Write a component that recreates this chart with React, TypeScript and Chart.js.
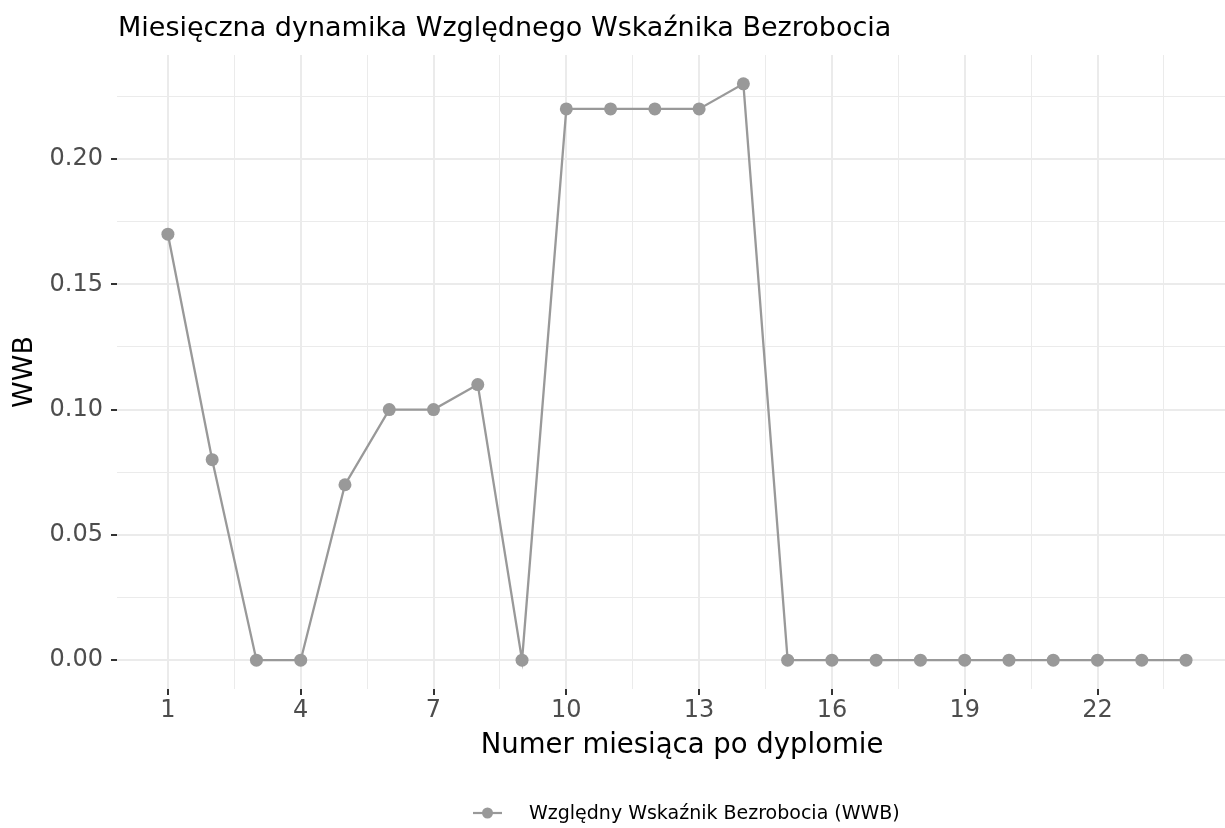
import React, { useEffect, useRef } from 'react';
import { Chart, registerables } from 'chart.js';

Chart.register(...registerables);

const months = [1, 2, 3, 4, 5, 6, 7, 8, 9, 10, 11, 12, 13, 14, 15, 16, 17, 18, 19, 20, 21, 22, 23, 24];
const wwbValues = [0.17, 0.08, 0, 0, 0.07, 0.1, 0.1, 0.11, 0, 0.22, 0.22, 0.22, 0.22, 0.23, 0, 0, 0, 0, 0, 0, 0, 0, 0, 0];
const xMajorTicks = [1, 4, 7, 10, 13, 16, 19, 22];
const xMinorTicks = [2.5, 5.5, 8.5, 11.5, 14.5, 17.5, 20.5, 23.5];
const yMajorTicks = [0, 0.05, 0.1, 0.15, 0.2];
const yMinorTicks = [0.025, 0.075, 0.125, 0.175, 0.225];
const yTickLabels = ['0.00', '0.05', '0.10', '0.15', '0.20'];

const titleText = 'Miesięczna dynamika Względnego Wskaźnika Bezrobocia';
const xTitleText = 'Numer miesiąca po dyplomie';
const yTitleText = 'WWB';
const legendLabel = 'Względny Wskaźnik Bezrobocia (WWB)';

const FONT = '"DejaVu Sans", sans-serif';
const LINE_COLOR = '#999999';
const GRID_COLOR = '#ebebeb';

const near = (a: number, b: number) => Math.abs(a - b) < 1e-9;
const isXMajor = (v: number) => xMajorTicks.some((m) => near(m, v));
const isYMajor = (v: number) => yMajorTicks.some((m) => near(m, v));

const overlayPlugin = {
  id: 'overlayText',
  afterDraw(chart: any) {
    const ctx = chart.ctx;
    ctx.save();
    // title
    ctx.fillStyle = '#000000';
    ctx.font = `27px ${FONT}`;
    ctx.textAlign = 'left';
    ctx.textBaseline = 'alphabetic';
    ctx.fillText(titleText, 118, 36);
    // x axis title
    ctx.font = `27.5px ${FONT}`;
    ctx.textAlign = 'center';
    ctx.textBaseline = 'middle';
    ctx.fillText(xTitleText, 682, 746);
    // legend
    const ly = 813;
    ctx.strokeStyle = LINE_COLOR;
    ctx.lineWidth = 2.2;
    ctx.beginPath();
    ctx.moveTo(473, ly);
    ctx.lineTo(502, ly);
    ctx.stroke();
    ctx.fillStyle = LINE_COLOR;
    ctx.beginPath();
    ctx.arc(487.5, ly, 5.5, 0, Math.PI * 2);
    ctx.fill();
    ctx.fillStyle = '#000000';
    ctx.font = `19px ${FONT}`;
    ctx.textAlign = 'left';
    ctx.textBaseline = 'middle';
    ctx.fillText(legendLabel, 529, ly + 1);
    ctx.restore();
  },
};

export default function App() {
  const canvasRef = useRef<HTMLCanvasElement | null>(null);

  useEffect(() => {
    if (!canvasRef.current) return;
    const chart = new Chart(canvasRef.current, {
      type: 'line',
      data: {
        datasets: [
          {
            label: legendLabel,
            data: months.map((m, i) => ({ x: m, y: wwbValues[i] })),
            borderColor: LINE_COLOR,
            backgroundColor: LINE_COLOR,
            borderWidth: 2.3,
            pointRadius: 6.5,
            pointBorderWidth: 0,
            pointBackgroundColor: LINE_COLOR,
            tension: 0,
          },
        ],
      },
      options: {
        animation: false,
        responsive: false,
        devicePixelRatio: 1,
        layout: { autoPadding: false, padding: { top: 55, left: 0, right: 0, bottom: 54 } },
        plugins: {
          legend: { display: false },
          title: { display: false },
          tooltip: { enabled: false },
        },
        scales: {
          x: {
            type: 'linear',
            min: -0.15,
            max: 24.88,
            afterFit: (scale: any) => {
              scale.height = 85;
            },
            afterBuildTicks: (scale: any) => {
              scale.ticks = [...xMajorTicks, ...xMinorTicks].sort((a, b) => a - b).map((v) => ({ value: v }));
            },
            border: { display: false },
            grid: {
              color: GRID_COLOR,
              lineWidth: (c: any) => (c.tick && isXMajor(c.tick.value) ? 2 : 1),
              tickColor: (c: any) => (c.tick && isXMajor(c.tick.value) ? '#333333' : 'rgba(0,0,0,0)'),
              tickWidth: 2,
              tickLength: 6,
              drawTicks: true,
            },
            ticks: {
              autoSkip: false,
              maxRotation: 0,
              padding: 4,
              color: '#4d4d4d',
              font: { family: FONT, size: 24, lineHeight: 1 },
              callback: (v: any) => (isXMajor(Number(v)) ? String(v) : ''),
            },
            title: { display: false, text: xTitleText },
          },
          y: {
            type: 'linear',
            min: -0.0115,
            max: 0.2415,
            afterFit: (scale: any) => {
              scale.width = 117;
            },
            afterBuildTicks: (scale: any) => {
              scale.ticks = [...yMajorTicks, ...yMinorTicks].sort((a, b) => a - b).map((v) => ({ value: v }));
            },
            border: { display: false },
            grid: {
              color: GRID_COLOR,
              lineWidth: (c: any) => (c.tick && isYMajor(c.tick.value) ? 2 : 1),
              tickColor: (c: any) => (c.tick && isYMajor(c.tick.value) ? '#333333' : 'rgba(0,0,0,0)'),
              tickWidth: 2,
              tickLength: 6,
              drawTicks: true,
            },
            ticks: {
              autoSkip: false,
              padding: 8,
              color: '#4d4d4d',
              font: { family: FONT, size: 24, lineHeight: 1 },
              callback: (v: any) => {
                const idx = yMajorTicks.findIndex((m) => near(m, Number(v)));
                return idx >= 0 ? yTickLabels[idx] : '';
              },
            },
            title: {
              display: true,
              text: yTitleText,
              color: '#000000',
              font: { family: FONT, size: 27, lineHeight: 1.2 },
              padding: { top: 9, bottom: 0 },
            },
          },
        },
      },
      plugins: [overlayPlugin],
    } as any);
    return () => chart.destroy();
  }, []);

  return (
    <div style={{ position: 'absolute', left: 0, top: 0, width: 1225, height: 828, background: '#ffffff' }}>
      <canvas ref={canvasRef} width={1225} height={828} />
    </div>
  );
}
